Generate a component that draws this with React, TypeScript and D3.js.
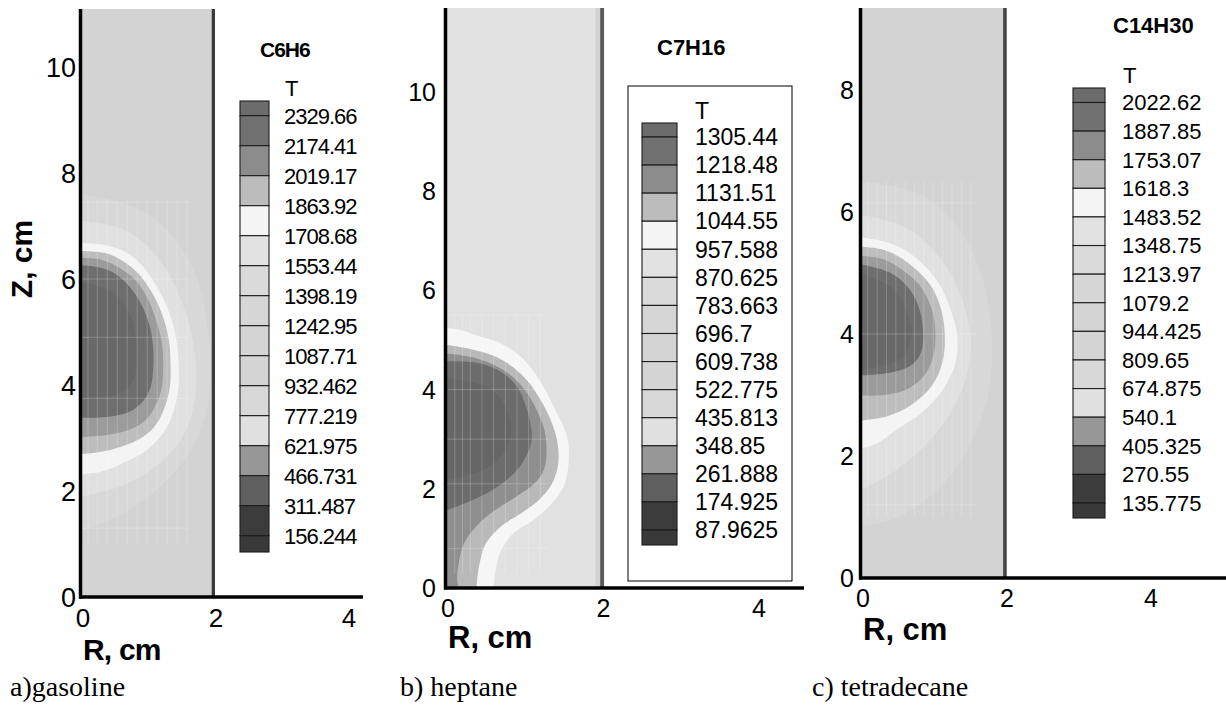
import React from "react";
import * as d3 from "d3";

// ---------- data ----------
const levelsA = ["2329.66","2174.41","2019.17","1863.92","1708.68","1553.44","1398.19","1242.95","1087.71","932.462","777.219","621.975","466.731","311.487","156.244"];
const levelsB = ["1305.44","1218.48","1131.51","1044.55","957.588","870.625","783.663","696.7","609.738","522.775","435.813","348.85","261.888","174.925","87.9625"];
const levelsC = ["2022.62","1887.85","1753.07","1618.3","1483.52","1348.75","1213.97","1079.2","944.425","809.65","674.875","540.1","405.325","270.55","135.775"];
const bandColors = ["#6c6c6c","#717171","#8c8c8c","#bcbcbc","#f4f4f4","#e2e2e2","#dadada","#d6d6d6","#d4d4d4","#d4d4d4","#d8d8d8","#e0e0e0","#979797","#5f5f5f","#3c3c3c","#393939"];

const yTicksA = [0, 2, 4, 6, 8, 10];
const yTicksB = [0, 2, 4, 6, 8, 10];
const yTicksC = [0, 2, 4, 6, 8];
const xTicks = [0, 2, 4];

// contour region boundaries (r, z) in cm, from axis top to axis bottom
const aHalo2 = [[0,7.6],[0.8,7.35],[1.3,6.9],[1.7,6.1],[1.9,5.0],[1.93,4.2],[1.85,3.4],[1.6,2.7],[1.1,2.0],[0.5,1.5],[0,1.25]];
const aHalo1 = [[0,7.1],[0.6,6.95],[1.0,6.6],[1.35,6.0],[1.6,5.2],[1.72,4.3],[1.68,3.6],[1.5,3.0],[1.15,2.5],[0.6,2.1],[0,1.9]];
const aWhite = [[0,6.68],[0.35,6.64],[0.68,6.49],[0.92,6.23],[1.13,5.85],[1.28,5.47],[1.4,4.98],[1.45,4.47],[1.45,3.96],[1.37,3.47],[1.22,3.09],[0.97,2.77],[0.62,2.53],[0.27,2.36],[0,2.32]];
const aLight = [[0,6.53],[0.35,6.49],[0.6,6.35],[0.85,6.1],[1.05,5.75],[1.2,5.35],[1.3,4.9],[1.33,4.45],[1.32,3.95],[1.22,3.5],[1.08,3.2],[0.85,2.97],[0.5,2.8],[0.2,2.72],[0,2.7]];
const aMid = [[0,6.4],[0.3,6.36],[0.55,6.22],[0.8,5.98],[1.0,5.6],[1.12,5.2],[1.2,4.8],[1.22,4.4],[1.2,3.95],[1.1,3.6],[0.95,3.33],[0.7,3.15],[0.35,3.05],[0,3.02]];
const aDark = [[0,6.26],[0.25,6.22],[0.5,6.1],[0.72,5.85],[0.9,5.5],[1.02,5.1],[1.07,4.7],[1.07,4.3],[1.03,3.95],[0.92,3.7],[0.72,3.5],[0.4,3.4],[0,3.38]];
const aCore = [[0,5.94],[0.4,5.8],[0.65,5.5],[0.78,5.1],[0.82,4.6],[0.8,4.2],[0.7,3.95],[0.45,3.8],[0,3.75]];

const bWhite = [[0,5.24],[0.17,5.2],[0.42,5.07],[0.64,4.97],[0.9,4.73],[1.07,4.46],[1.24,4.06],[1.37,3.66],[1.5,3.25],[1.56,2.92],[1.56,2.45],[1.5,2.04],[1.35,1.71],[1.11,1.37],[0.85,1.1],[0.68,0.7],[0.62,0.3],[0.6,0]];
const bLight = [[0,4.9],[0.3,4.82],[0.6,4.68],[0.85,4.45],[1.05,4.15],[1.2,3.8],[1.33,3.4],[1.42,2.95],[1.43,2.5],[1.35,2.1],[1.2,1.8],[0.95,1.5],[0.7,1.25],[0.5,0.9],[0.42,0.5],[0.39,0.2],[0.38,0]];
const bMid = [[0,4.73],[0.3,4.66],[0.6,4.5],[0.85,4.25],[1.02,3.95],[1.15,3.6],[1.25,3.2],[1.28,2.8],[1.25,2.4],[1.12,2.1],[0.9,1.85],[0.6,1.55],[0.38,1.25],[0.22,0.9],[0.15,0.5],[0.13,0.2],[0.15,0]];
const bDark = [[0,4.57],[0.42,4.53],[0.72,4.33],[0.9,4.06],[1.03,3.59],[1.09,3.12],[1.07,2.85],[0.9,2.38],[0.51,1.91],[0,1.57]];
const bCore = [[0,4.23],[0.55,4.03],[0.79,3.52],[0.81,2.98],[0.6,2.51],[0.34,2.31],[0,2.18]];

const cHalo2 = [[0,6.5],[0.8,6.3],[1.3,5.8],[1.65,5.0],[1.8,4.0],[1.75,3.0],[1.5,2.2],[1.1,1.5],[0.5,1.0],[0,0.85]];
const cHalo1 = [[0,5.95],[0.6,5.75],[1.05,5.3],[1.35,4.7],[1.5,4.0],[1.45,3.3],[1.25,2.75],[0.9,2.2],[0.45,1.75],[0,1.45]];
const cWhite = [[0,5.58],[0.35,5.5],[0.67,5.32],[1.04,4.88],[1.22,4.43],[1.32,3.99],[1.3,3.54],[1.13,3.1],[0.85,2.73],[0.48,2.43],[0.2,2.2],[0,2.13]];
const cLight = [[0,5.43],[0.3,5.38],[0.6,5.2],[0.95,4.8],[1.1,4.4],[1.15,3.98],[1.12,3.55],[0.97,3.15],[0.7,2.85],[0.35,2.65],[0,2.58]];
const cMid = [[0,5.28],[0.25,5.24],[0.5,5.1],[0.8,4.8],[0.97,4.4],[1.02,3.98],[0.98,3.6],[0.85,3.3],[0.6,3.08],[0.3,3.0],[0,2.99]];
const cDark = [[0,5.14],[0.4,5.0],[0.65,4.75],[0.8,4.4],[0.85,4.0],[0.82,3.7],[0.7,3.5],[0.45,3.38],[0,3.32]];
const cCore = [[0,4.99],[0.44,4.73],[0.65,4.28],[0.69,3.99],[0.57,3.62],[0.2,3.45],[0,3.42]];

// faint mesh lines (cm)
const meshAr = [0.09,0.23,0.38,0.53,0.68,0.83,0.98,1.13,1.28,1.43,1.58];
const meshAz = [7.45,6.0,4.9,3.75,1.3];
const meshBr = [0.1,0.2,0.3,0.45,0.6,0.75,0.9,1.05,1.2];
const meshBz = [5.5,4.0,3.0,2.1,0.8];
const meshCr = [0.08,0.21,0.34,0.47,0.6,0.73,0.86,0.99,1.12,1.25,1.38,1.51];
const meshCz = [6.15,4.0,1.2];

const SANS = "'Liberation Sans', Arial, Helvetica, sans-serif";
const SERIF = "'Liberation Serif', 'Times New Roman', serif";

type Pt = number[];

function Panel(props: any) {
  const { id, x, y, zTop, wallR0, wallR1, wallColor, bg, layers, colors, mesh, meshZ, meshBox, yTicks, yLabelX, yFont, xFont, xBase, axisEnd, strip } = props;
  const line = d3.line<Pt>().x(d => x(d[0])).y(d => y(d[1])).curve(d3.curveCatmullRom.alpha(0.5));
  const regionPath = (pts: Pt[]) => {
    const last = pts[pts.length - 1];
    return (line(pts) || "") + `L${x(0)},${y(last[1])}Z`;
  };
  const x0 = x(0), y0 = y(0), yT = y(zTop);
  return (
    <g>
      <defs>
        <clipPath id={id}>
          <rect x={x0} y={yT} width={x(wallR0) - x0} height={y0 - yT} />
        </clipPath>
      </defs>
      <rect x={x0} y={yT} width={x(wallR0) - x0} height={y0 - yT} fill={bg} />
      <g clipPath={`url(#${id})`}>
        {layers.map((pts: Pt[], i: number) => (
          <path key={i} d={regionPath(pts)} fill={colors[i]} />
        ))}
        {mesh.map((r: number, i: number) => (
          <line key={"mv" + i} x1={x(r)} x2={x(r)} y1={y(meshBox[3])} y2={y(meshBox[2])} stroke="#fff" strokeOpacity={0.22} strokeWidth={1} />
        ))}
        {meshZ.map((z: number, i: number) => (
          <line key={"mh" + i} x1={x(meshBox[0])} x2={x(meshBox[1])} y1={y(z)} y2={y(z)} stroke="#fff" strokeOpacity={0.22} strokeWidth={1} />
        ))}
      </g>
      {strip && <rect x={x(strip[0])} y={yT} width={x(strip[1]) - x(strip[0])} height={y0 - yT} fill={strip[2]} />}
      <rect x={x(wallR0)} y={yT} width={x(wallR1) - x(wallR0)} height={y0 - yT} fill={wallColor} />
      {/* axes */}
      <line x1={x0 - 1.5} x2={x0 - 1.5} y1={yT} y2={y0 + 1.5} stroke="#000" strokeWidth={3.5} />
      <line x1={x0 - 3} x2={axisEnd} y1={y0} y2={y0} stroke="#000" strokeWidth={3.5} />
      {yTicks.map((t: number) => (
        <text key={"y" + t} x={yLabelX} y={y(t) + yFont * 0.36} textAnchor="end" fontFamily={SANS} fontSize={yFont}>{t}</text>
      ))}
      {xTicks.map((t: number) => (
        <text key={"x" + t} x={x(t) + 1} y={xBase} textAnchor="middle" fontFamily={SANS} fontSize={xFont}>{t}</text>
      ))}
    </g>
  );
}

function Legend(props: any) {
  const { levels, barX0, barX1, top, bottom, l0, l14, labelX, fontSize, spacing } = props;
  const ly = d3.scaleLinear().domain([0, levels.length - 1]).range([l0, l14]);
  const edges = [top, ...levels.map((_: string, i: number) => ly(i)), bottom];
  return (
    <g>
      {bandColors.map((c, i) => (
        <rect key={i} x={barX0} y={edges[i]} width={barX1 - barX0} height={edges[i + 1] - edges[i]} fill={c} stroke="#1c1c1c" strokeWidth={1.1} />
      ))}
      {levels.map((s: string, i: number) => (
        <text key={s} x={labelX} y={ly(i) + fontSize * 0.36} fontFamily={SANS} fontSize={fontSize} letterSpacing={spacing}>{s}</text>
      ))}
    </g>
  );
}

export default function App() {
  const xA = d3.scaleLinear().domain([0, 4]).range([82, 348]);
  const yA = d3.scaleLinear().domain([0, 10]).range([597, 67]);
  const xB = d3.scaleLinear().domain([0, 4]).range([447, 758]);
  const yB = d3.scaleLinear().domain([0, 10]).range([588, 92]);
  const xC = d3.scaleLinear().domain([0, 4]).range([862, 1150]);
  const yC = d3.scaleLinear().domain([0, 8]).range([578, 90]);

  const colsAC = ["#d8d8d8", "#e0e0e0", "#f4f4f4", "#bdbdbd", "#9b9b9b", "#6e6e6e", "#686868"];
  const colsB = ["#f6f6f6", "#b9b9b9", "#8f8f8f", "#6c6c6c", "#666666"];

  return (
    <svg width={1226} height={709} style={{ position: "absolute", left: 0, top: 0, background: "#fff" }}>
      <rect width={1226} height={709} fill="#fff" />
      {/* Panel a */}
      <Panel id="clipA" x={xA} y={yA} zTop={yA.invert(9)} wallR0={1.95} wallR1={2.0} wallColor="#3a3a3a" bg="#d3d3d3"
        layers={[aHalo2, aHalo1, aWhite, aLight, aMid, aDark, aCore]} colors={colsAC}
        mesh={meshAr} meshZ={meshAz} meshBox={[0, 1.6, 1.0, 7.5]}
        yTicks={yTicksA} yLabelX={76} yFont={27} xFont={26} xBase={627} axisEnd={363} />
      <text transform="translate(32,259) rotate(-90)" textAnchor="middle" fontFamily={SANS} fontWeight="bold" fontSize={30}>Z, cm</text>
      <text x={83} y={660} fontFamily={SANS} fontWeight="bold" fontSize={30} letterSpacing={-0.8}>R, cm</text>
      <text x={260} y={57} fontFamily={SANS} fontWeight="bold" fontSize={21} letterSpacing={-1}>C6H6</text>
      <text x={285} y={96} fontFamily={SANS} fontSize={22}>T</text>
      <Legend levels={levelsA} barX0={240} barX1={269} top={101} bottom={552} l0={115.7} l14={535.7} labelX={284} fontSize={22} spacing={-1} />

      {/* Panel b */}
      <Panel id="clipB" x={xB} y={yB} zTop={yB.invert(8)} wallR0={1.97} wallR1={2.02} wallColor="#5a5a5a" bg="#e1e1e1"
        layers={[bWhite, bLight, bMid, bDark, bCore]} colors={colsB}
        mesh={meshBr} meshZ={meshBz} meshBox={[0, 1.3, 0.3, 5.5]}
        yTicks={yTicksB} yLabelX={436} yFont={25} xFont={25} xBase={617} axisEnd={804} strip={[1.91, 1.97, "#d2d2d2"]} />
      <text x={448} y={648} fontFamily={SANS} fontWeight="bold" fontSize={31}>R, cm</text>
      <rect x={628} y={86} width={164} height={495} fill="none" stroke="#000" strokeWidth={1} />
      <text x={657} y={55} fontFamily={SANS} fontWeight="bold" fontSize={22}>C7H16</text>
      <text x={695} y={119} fontFamily={SANS} fontSize={23}>T</text>
      <Legend levels={levelsB} barX0={642} barX1={677} top={123} bottom={545} l0={137} l14={530} labelX={695} fontSize={23} spacing={0} />

      {/* Panel c */}
      <Panel id="clipC" x={xC} y={yC} zTop={yC.invert(8)} wallR0={1.96} wallR1={2.01} wallColor="#444444" bg="#d3d3d3"
        layers={[cHalo2, cHalo1, cWhite, cLight, cMid, cDark, cCore]} colors={colsAC}
        mesh={meshCr} meshZ={meshCz} meshBox={[0, 1.6, 1.0, 6.5]}
        yTicks={yTicksC} yLabelX={854} yFont={25} xFont={25} xBase={607} axisEnd={1226} />
      <text x={863} y={640} fontFamily={SANS} fontWeight="bold" fontSize={31}>R, cm</text>
      <text x={1113} y={33} fontFamily={SANS} fontWeight="bold" fontSize={22}>C14H30</text>
      <text x={1123} y={83} fontFamily={SANS} fontSize={22}>T</text>
      <Legend levels={levelsC} barX0={1073} barX1={1105} top={88} bottom={518} l0={102.5} l14={503} labelX={1122} fontSize={22} spacing={0} />

      {/* captions */}
      <text x={10} y={696} fontFamily={SERIF} fontSize={28}>a)gasoline</text>
      <text x={400} y={696} fontFamily={SERIF} fontSize={28}>b) heptane</text>
      <text x={812} y={696} fontFamily={SERIF} fontSize={28}>c) tetradecane</text>
    </svg>
  );
}
